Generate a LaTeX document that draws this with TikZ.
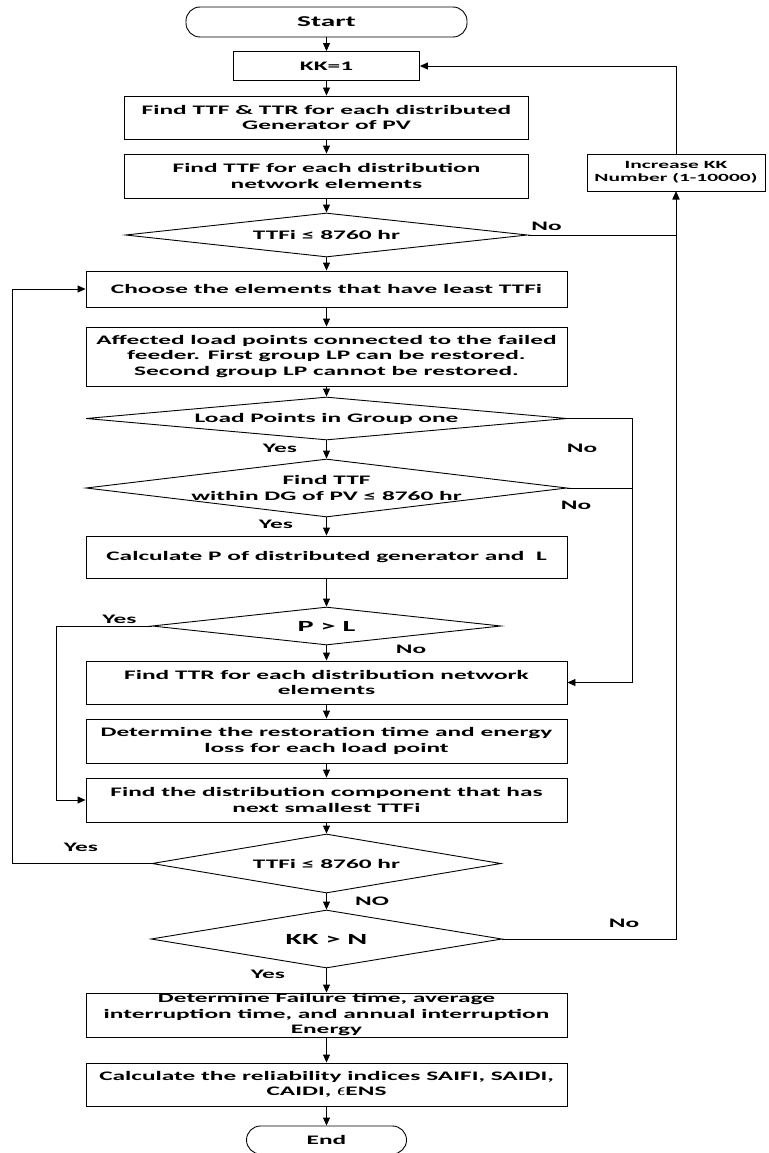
\documentclass[tikz,border=0pt]{standalone}
\usepackage{fontspec}
\setmainfont{Carlito}[FakeStretch=1.95]
\usetikzlibrary{shapes.geometric,arrows.meta}

\begin{document}
\begin{tikzpicture}[x=1pt,y=-1pt,line width=0.9pt,>={Triangle[length=8pt,width=7pt]},
    procbox/.style={draw,rectangle,minimum width=481pt,minimum height=44pt,align=center,inner sep=1pt,font=\bfseries\fontsize{13}{15.5}\selectfont},
    decide/.style={draw,diamond,aspect=10,inner sep=0pt,align=center,font=\bfseries\fontsize{13}{15.5}\selectfont},
    terminal/.style={draw,rectangle,rounded corners=14pt,font=\bfseries\fontsize{15}{18}\selectfont},
    lab/.style={inner sep=0pt,font=\bfseries\fontsize{13}{15.5}\selectfont}]
    \useasboundingbox (0,0) rectangle (768,1153);
    % main column
    \node[terminal,minimum width=281pt,minimum height=30pt] (start) at (326.5,22) {Start};
    \node[procbox,minimum width=186pt,minimum height=29pt] (kk) at (326.5,66) {KK=1};
    \node[procbox,minimum width=404pt,minimum height=43pt] (ttfpv) at (326.5,117.5) {Find TTF \& TTR for each distributed\\Generator of PV};
    \node[procbox,minimum width=404pt] (ttfnet) at (326.5,176) {Find TTF for each distribution\\network elements};
    \node[decide,minimum width=402pt,minimum height=44pt] (chk1) at (326.5,235) {TTFi ≤ 8760 hr};
    \node[procbox,minimum height=36pt] (choose) at (326.5,289) {Choose the elements that have least TTFi};
    \node[procbox,minimum height=59pt] (affect) at (326.5,356.5) {Affected load points connected to the failed\\feeder. First group LP can be restored.\\Second group LP cannot be restored.};
    \node[decide,minimum width=481pt,minimum height=43pt] (group) at (326.5,418.5) {Load Points in Group one};
    \node[decide,minimum width=481pt,minimum height=58pt,inner ysep=-9pt] (dgpv) at (326.5,488) {Find TTF\\within DG of PV ≤ 8760 hr};
    \node[procbox,minimum height=42pt] (calcp) at (326.5,557) {Calculate P of distributed generator and\ \ L};
    \node[decide,minimum width=349pt,minimum height=38pt,font=\bfseries\fontsize{15.5}{18}\selectfont] (pl) at (326.5,626) {P > L};
    \node[procbox,minimum height=43pt] (ttr) at (326.5,682.5) {Find TTR for each distribution network\\elements};
    \node[procbox] (restore) at (326.5,741) {Determine the restoration time and energy\\loss for each load point};
    \node[procbox] (nextc) at (326.5,800) {Find the distribution component that has\\next smallest TTFi};
    \node[decide,minimum width=349pt,minimum height=59pt] (chk2) at (326.5,863.5) {TTFi ≤ 8760 hr};
    \node[decide,minimum width=351pt,minimum height=58pt,font=\bfseries\fontsize{15.5}{18}\selectfont] (kkn) at (326.5,939) {KK > N};
    \node[procbox,inner ysep=0pt] (fail) at (326.5,1015) {Determine Failure time, average\\interruption time, and annual interruption\\Energy};
    \node[procbox,minimum height=43pt] (relia) at (326.5,1084.5) {Calculate the reliability indices SAIFI, SAIDI,\\CAIDI, {\fontsize{19}{19}\selectfont\boldmath$\epsilon$}ENS};
    \node[terminal,minimum width=160pt,minimum height=28pt,font=\bfseries\fontsize{13}{15.5}\selectfont] (end) at (326.5,1140) {End};
    % side box
    \node[procbox,minimum width=178pt,minimum height=37pt,font=\bfseries\fontsize{11}{13}\selectfont] (inc) at (676,172.5) {Increase KK\\Number (1-10000)};
    % bend columns
    \coordinate (colA) at (12,0);
    \coordinate (colB) at (56,0);
    \coordinate (colC) at (632,0);
    % labels
    \node[lab] (no1) at (546.5,226) {No};
    \node[lab] (yes1) at (280,448) {Yes};
    \node[lab] (no2) at (582,448) {No};
    \node[lab] (no3) at (576,505) {No};
    \node[lab] (yes2) at (276,524) {Yes};
    \node[lab] (yes3) at (119.5,619) {Yes};
    \node[lab] (no4) at (411,649) {No};
    \node[lab] (yes4) at (81,847) {Yes};
    \node[lab] (no5) at (372,901) {NO};
    \node[lab] (no6) at (624,923) {No};
    \node[lab] (yes5) at (268,974) {Yes};
    % straight flow
    \draw [->] (start) -- (kk);
    \draw [->] (kk) -- (ttfpv);
    \draw [->] (ttfpv) -- (ttfnet);
    \draw [->] (ttfnet) -- (chk1);
    \draw [->] (chk1) -- (choose);
    \draw [->] (choose) -- (affect);
    \draw [->] (affect) -- (group);
    \draw [->] (group) -- (dgpv);
    \draw [->] (dgpv) -- (calcp);
    \draw [->] (calcp) -- (pl);
    \draw [->] (pl) -- (ttr);
    \draw [->] (ttr) -- (restore);
    \draw [->] (restore) -- (nextc);
    \draw [->] (nextc) -- (chk2);
    \draw [->] (chk2) -- (kkn);
    \draw [->] (kkn) -- (fail);
    \draw [->] (fail) -- (relia);
    \draw [->] (relia) -- (end);
    % loops
    \draw [->] (chk1.east) -| (inc.south);
    \draw [->] (kkn.east) -| (inc.south);
    \draw [->] (inc.north) |- (kk.east);
    \draw [->] (group.east) -- (group.east -| colC) |- (ttr.east);
    \draw (dgpv.east) -- (dgpv.east -| colC);
    \draw [->] (pl.west) -- (pl.west -| colB) |- (nextc.west);
    \draw [->] (chk2.west) -- (chk2.west -| colA) |- (choose.west);
\end{tikzpicture}
\end{document}
